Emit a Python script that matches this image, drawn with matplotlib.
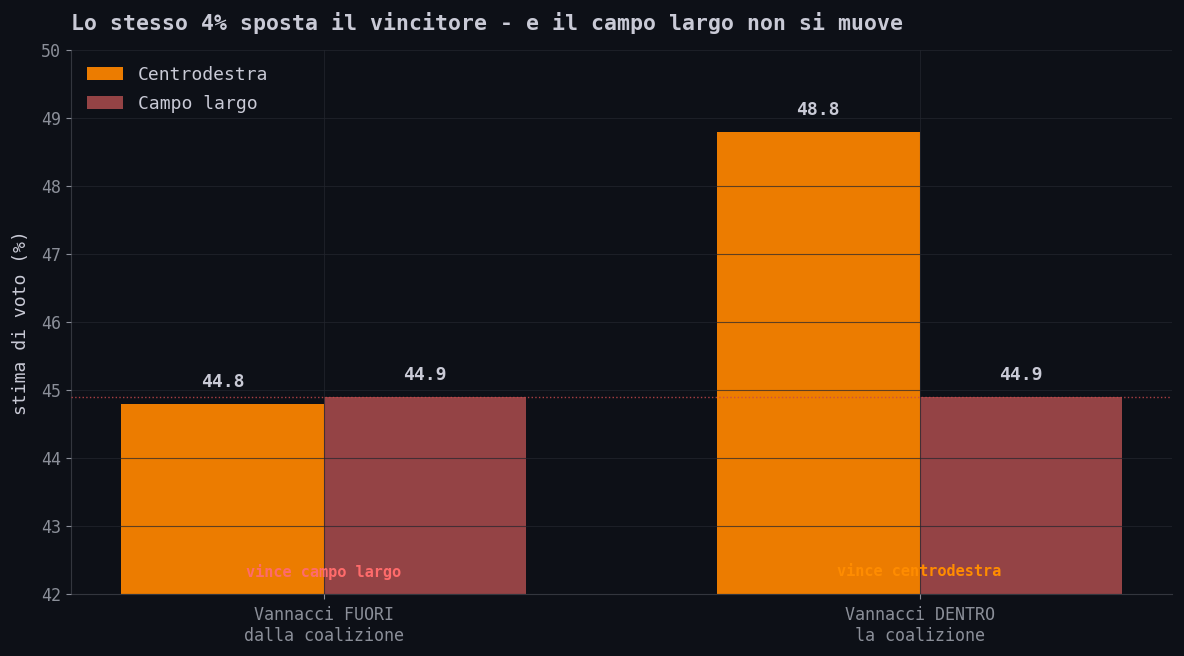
import matplotlib.pyplot as plt
import numpy as np

# Data
scenari = ['Vannacci FUORI\ndalla coalizione', 'Vannacci DENTRO\nla coalizione']
centrodestra = [44.8, 48.8]
campo_largo = [44.9, 44.9]
vincitori = ['vince campo largo', 'vince centrodestra']

BG = '#0d1017'
ORANGE = '#ec7c00'
RED = '#944345'
TEXT = '#c9cad6'
TICK = '#8b8f99'

plt.rcParams['font.family'] = ['DejaVu Sans Mono']

fig, ax = plt.subplots(figsize=(11.84, 6.56), dpi=100)
fig.patch.set_facecolor(BG)
ax.set_facecolor(BG)

x = np.arange(len(scenari))
w = 0.34
b1 = ax.bar(x - w / 2, centrodestra, w, color=ORANGE, label='Centrodestra', zorder=2)
b2 = ax.bar(x + w / 2, campo_largo, w, color=RED, label='Campo largo', zorder=2)

for bars in (b1, b2):
  for bar in bars:
    h = bar.get_height()
    ax.text(bar.get_x() + bar.get_width() / 2, h + 0.19, f'{h:.1f}',
            ha='center', va='bottom', color=TEXT, fontsize=13, fontweight='bold', zorder=4)

# soglia campo largo
ax.axhline(campo_largo[0], color='#c8484c', linestyle=':', linewidth=1, alpha=0.85, zorder=3)

win_colors = ['#ff6b6b', '#ff8c00']
for i, (txt, c) in enumerate(zip(vincitori, win_colors)):
  ax.text(x[i], 42.33, txt, ha='center', va='center', color=c, fontsize=11, fontweight='bold', zorder=4)

ax.set_ylim(42, 50)
ax.set_xticks(x)
ax.set_xticklabels(scenari)
ax.set_ylabel('stima di voto (%)', color=TEXT, fontsize=13, labelpad=8)
ax.set_title('Lo stesso 4% sposta il vincitore - e il campo largo non si muove',
             loc='left', color=TEXT, fontsize=15.5, fontweight='bold', pad=14.5)

ax.tick_params(axis='both', colors=TICK, labelsize=12)
ax.tick_params(axis='x', pad=5)
ax.grid(True, color='#23262e', alpha=0.7, linewidth=0.8, zorder=3)
ax.set_axisbelow(False)
for s in ['top', 'right']:
  ax.spines[s].set_visible(False)
for s in ['left', 'bottom']:
  ax.spines[s].set_color('#33363e')

leg = ax.legend(loc='upper left', frameon=False, fontsize=13, handlelength=2,
                borderpad=0.4, labelspacing=0.6)
for t in leg.get_texts():
  t.set_color(TEXT)

plt.subplots_adjust(left=0.06, right=0.99, top=0.924, bottom=0.094)
plt.savefig('out.png', facecolor=BG)
